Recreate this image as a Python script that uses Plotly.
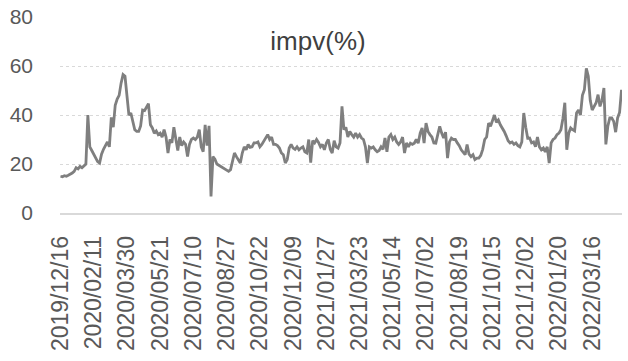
import plotly.graph_objects as go

# x-axis category labels (every 34th trading day)
tick_labels = ["2019/12/16", "2020/02/11", "2020/03/30", "2020/05/21", "2020/07/10",
               "2020/08/27", "2020/10/22", "2020/12/09", "2021/01/27", "2021/03/23",
               "2021/05/14", "2021/07/02", "2021/08/19", "2021/10/15", "2021/12/02",
               "2022/01/20", "2022/03/16"]
label_step = 34      # trading days between labels
sample_step = 2      # trading days between sampled values below
n_days = 575         # number of trading-day categories on the axis

impv = [
    15.0, 14.8, 15.2, 15.0, 15.4, 15.8, 16.3, 17.0, 18.5, 18.0,
    19.0, 18.5, 19.2, 20.0, 40.0, 27.0, 25.5, 24.0, 22.0, 21.0,
    20.4, 24.0, 26.0, 27.5, 29.0, 27.0, 39.0, 35.0, 44.0, 46.5,
    48.0, 53.0, 56.5, 55.8, 49.0, 40.0, 40.8, 37.5, 34.0, 33.3,
    33.3, 35.5, 42.0, 41.8, 43.5, 44.6, 36.0, 34.7, 32.5, 33.5,
    32.0, 32.6, 31.0, 34.0, 31.0, 24.5, 30.0, 28.6, 35.0, 30.0,
    25.5, 31.0, 27.5, 29.0, 28.0, 23.0, 28.0, 30.0, 30.6, 30.0,
    31.0, 34.0, 27.0, 25.0, 36.0, 27.5, 35.6, 6.8, 23.0, 22.0,
    20.0, 19.5, 19.0, 18.7, 18.2, 17.8, 17.0, 17.7, 21.8, 24.5,
    23.0, 21.5, 20.4, 24.5, 27.0, 25.8, 28.0, 26.8, 27.0, 28.6,
    28.6, 29.0, 27.0, 28.0, 29.5, 31.0, 32.0, 30.0, 31.0, 28.0,
    28.0, 27.5, 26.5, 24.5, 23.8, 20.4, 21.8, 26.5, 28.0, 26.5,
    26.0, 27.0, 25.8, 26.5, 27.0, 25.0, 24.5, 30.0, 20.6, 29.5,
    28.6, 30.0, 28.8, 27.0, 28.0, 25.8, 28.6, 30.0, 26.0, 24.5,
    29.5, 27.0, 26.5, 28.6, 43.5, 34.0, 35.0, 31.0, 33.3, 32.0,
    31.0, 32.6, 31.0, 32.0, 30.6, 30.0, 27.0, 20.4, 27.0, 26.5,
    27.0, 25.8, 25.0, 25.5, 27.0, 26.0, 30.6, 25.0, 31.0, 32.0,
    30.0, 31.0, 29.0, 28.0, 29.0, 31.0, 24.5, 28.6, 27.0, 28.5,
    28.0, 28.5, 30.0, 28.5, 32.6, 34.7, 28.5, 36.7, 33.3, 32.0,
    31.0, 28.6, 28.5, 32.0, 35.4, 32.6, 30.6, 33.0, 22.4, 29.0,
    30.6, 30.0, 30.0, 28.6, 27.5, 25.8, 25.0, 23.8, 28.0, 24.0,
    23.0, 23.8, 21.8, 22.4, 22.4, 23.5, 26.0, 30.0, 31.0, 36.7,
    35.4, 37.4, 40.0, 37.0, 38.0, 36.0, 34.7, 33.3, 31.5, 29.5,
    28.6, 29.0, 28.0, 28.6, 27.5, 27.0, 29.0, 40.8, 35.0, 30.5,
    30.6, 28.6, 29.0, 27.0, 31.0, 27.0, 25.8, 26.5, 25.0, 27.0,
    20.4, 28.6, 30.0, 30.6, 32.0, 32.6, 34.0, 38.5, 45.0, 25.8,
    32.6, 34.7, 34.0, 33.5, 40.8, 42.0, 40.0, 48.0, 50.3, 59.0,
    55.8, 46.0, 42.0, 43.5, 45.0, 48.3, 43.5, 46.0, 51.0, 28.0,
    35.4, 38.8, 38.8, 37.4, 33.0, 38.8, 41.0, 50.3,
]

y_ticks = [0, 20, 40, 60, 80]

x_idx = [i * sample_step for i in range(len(impv))]
tick_vals = [i * label_step for i in range(len(tick_labels))]

FONT = "Liberation Sans"

fig = go.Figure()
fig.add_trace(go.Scatter(
    x=x_idx, y=impv, mode="lines",
    line=dict(color="#7f7f7f", width=2.8),
    hoverinfo="skip", showlegend=False,
))

fig.update_layout(
    width=628, height=361,
    margin=dict(l=60, r=6, t=17, b=148),
    paper_bgcolor="white", plot_bgcolor="white",
    font=dict(family=FONT, color="#595959"),
    title=dict(text="impv(%)", x=318 / 628, xref="container", xanchor="center",
               y=1 - 41 / 361, yref="container", yanchor="middle",
               font=dict(family=FONT, size=26, color="#404040")),
)
fig.update_xaxes(
    range=[-0.5, n_days - 0.5],
    tickmode="array", tickvals=tick_vals, ticktext=tick_labels,
    tickangle=-90, tickfont=dict(size=23, color="#595959"),
    showgrid=False, zeroline=False,
    showline=True, linecolor="#d9d9d9", linewidth=1.5,
    ticks="", ticklabelstandoff=12,
)
fig.update_yaxes(
    range=[0, 80], tickmode="array", tickvals=y_ticks,
    tickfont=dict(size=21, color="#595959"),
    showgrid=True, gridcolor="#d9d9d9", griddash="dot", gridwidth=1.2,
    zeroline=False, showline=False, ticks="", ticklabelstandoff=26,
)

fig.write_html("out.html")
